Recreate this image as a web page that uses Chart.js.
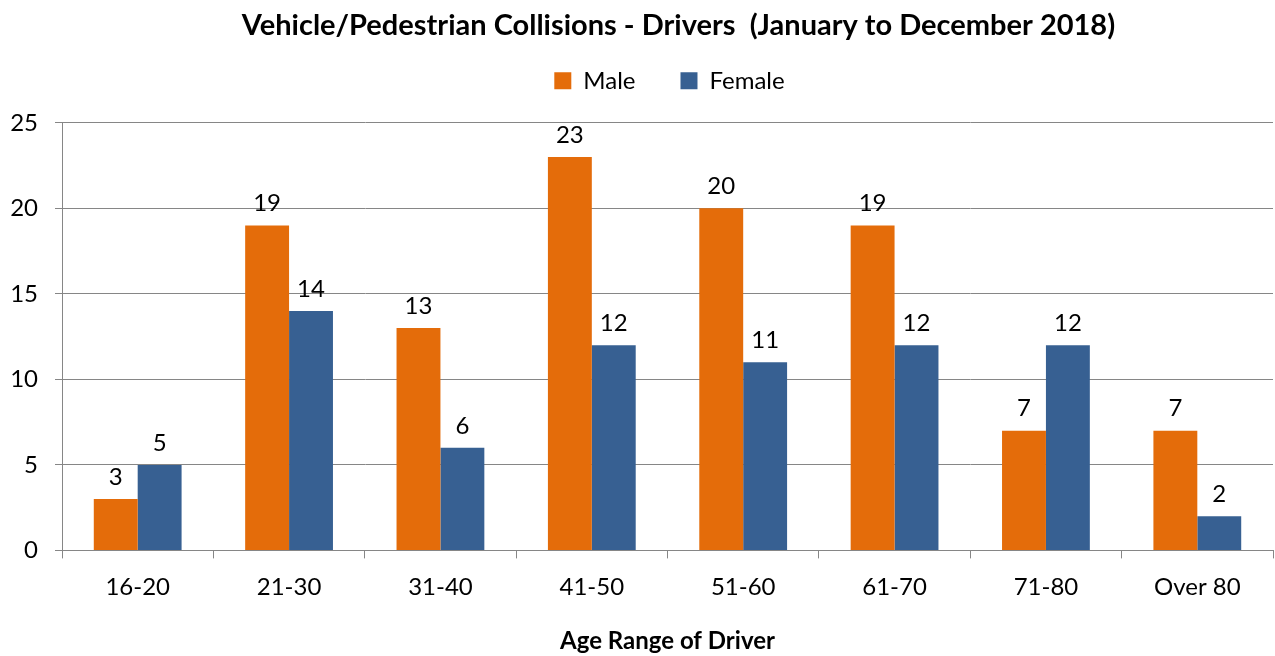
<!DOCTYPE html>
<html>
<head>
<meta charset="utf-8">
<script src="https://cdn.jsdelivr.net/npm/chart.js@4"></script>
<style>
  html, body { margin: 0; padding: 0; background: #fff; }
  #wrap { width: 1275px; height: 656px; }
</style>
</head>
<body>
<div id="wrap"><canvas id="chart"></canvas></div>
<script>
const ageRanges = ['16-20', '21-30', '31-40', '41-50', '51-60', '61-70', '71-80', 'Over 80'];
const maleCounts = [3, 19, 13, 23, 20, 19, 7, 7];
const femaleCounts = [5, 14, 6, 12, 11, 12, 12, 2];

const FONT = 'Lato, "Open Sans", sans-serif';
const axisGray = '#868686';

// draws the value above each bar
const barLabels = {
    id: 'barLabels',
    afterDatasetsDraw(chart) {
        const ctx = chart.ctx;
        ctx.save();
        ctx.font = '24px ' + FONT;
        ctx.fillStyle = '#000';
        ctx.textAlign = 'center';
        ctx.textBaseline = 'middle';
        chart.data.datasets.forEach((ds, i) => {
            chart.getDatasetMeta(i).data.forEach((bar, j) => {
                ctx.fillText(ds.data[j], bar.x, bar.y - 22);
            });
        });
        ctx.restore();
    }
};

// title and legend sit centred over the plot, a bit right of the canvas centre
const nudgeHeader = {
    id: 'nudgeHeader',
    afterLayout(chart) {
        if (chart.titleBlock) {
            chart.titleBlock.left += 37;
            chart.titleBlock.right += 37;
        }
        if (chart.legend) {
            chart.legend.left += 28;
            chart.legend.right += 28;
        }
    }
};

new Chart(document.getElementById('chart'), {
    type: 'bar',
    data: {
        labels: ageRanges,
        datasets: [
            {
                label: 'Male',
                data: maleCounts,
                backgroundColor: '#E46C0A',
                barPercentage: 1,
                categoryPercentage: 0.58
            },
            {
                label: 'Female',
                data: femaleCounts,
                backgroundColor: '#376092',
                barPercentage: 1,
                categoryPercentage: 0.58
            }
        ]
    },
    options: {
        responsive: true,
        maintainAspectRatio: false,
        animation: false,
        layout: { padding: { left: 10, right: 2, top: 0, bottom: 0 } },
        plugins: {
            title: {
                display: true,
                text: 'Vehicle/Pedestrian Collisions - Drivers  (January to December 2018)',
                color: '#000',
                font: { family: FONT, size: 29, weight: 'bold' },
                padding: { top: 8, bottom: -19 }
            },
            // empty spacer between legend and plot
            subtitle: {
                display: true,
                text: ' ',
                weight: 500,
                font: { size: 10, lineHeight: 1 },
                padding: { top: 0, bottom: 10 }
            },
            legend: {
                position: 'top',
                labels: {
                    color: '#000',
                    font: { family: FONT, size: 24 },
                    boxWidth: 17,
                    boxHeight: 17,
                    padding: 45
                }
            },
            tooltip: { enabled: false }
        },
        scales: {
            x: {
                grid: {
                    display: true,
                    drawOnChartArea: false,
                    drawTicks: true,
                    tickLength: 8,
                    color: axisGray,
                    offset: true
                },
                border: { color: axisGray },
                ticks: {
                    color: '#000',
                    font: { family: FONT, size: 24 },
                    padding: 14
                },
                title: {
                    display: true,
                    text: 'Age Range of Driver',
                    color: '#000',
                    font: { family: FONT, size: 24, weight: 'bold' },
                    padding: { top: 12, bottom: 0 }
                }
            },
            y: {
                min: 0,
                max: 25,
                afterFit(scale) { scale.width = 52; },
                ticks: {
                    stepSize: 5,
                    color: '#000',
                    font: { family: FONT, size: 24 },
                    padding: 17
                },
                grid: {
                    color: axisGray,
                    tickLength: 7
                },
                border: { color: axisGray }
            }
        }
    },
    plugins: [barLabels, nudgeHeader]
});
</script>
</body>
</html>
